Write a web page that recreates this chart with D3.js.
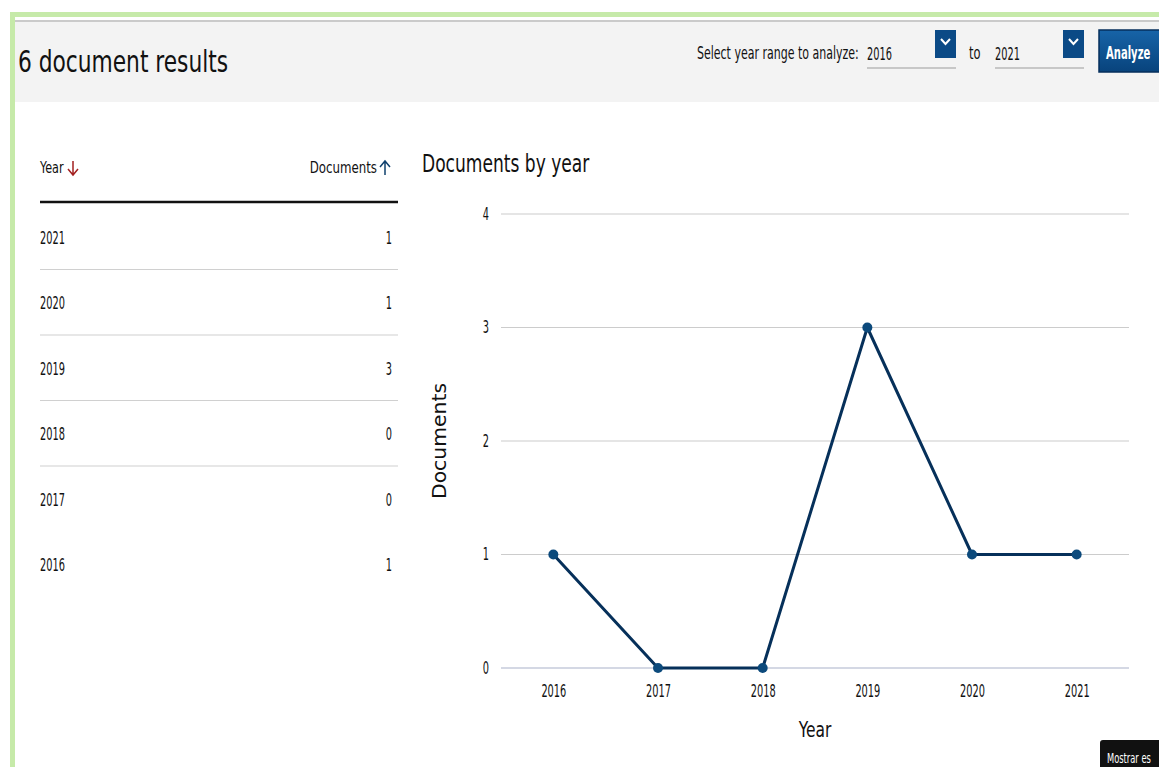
<!DOCTYPE html>
<html>
<head>
<meta charset="utf-8">
<script src="https://cdn.jsdelivr.net/npm/d3@7"></script>
<style>
  html, body { margin: 0; padding: 0; background: #fff; overflow: hidden; }
  svg { display: block; }
  .nar { font-family: "Liberation Sans Narrow", "DejaVu Sans Condensed", "Arial Narrow", "DejaVu Sans", sans-serif; }
</style>
</head>
<body>
<svg id="page" width="1159" height="767"></svg>
<script>
// ---- data ----
const years = ["2016", "2017", "2018", "2019", "2020", "2021"];
const documents = [1, 0, 0, 3, 1, 1];
const yTicks = [0, 1, 2, 3, 4];
const totalResults = 6;
const rangeFrom = "2016";
const rangeTo = "2021";

const svg = d3.select("#page");
const NAR = "Liberation Sans Narrow, DejaVu Sans Condensed, Arial Narrow, DejaVu Sans, sans-serif";

// condense text horizontally (about its anchor x) to mimic the narrow UI font
function condense(sel, k) {
  sel.each(function () {
    const x0 = +(this.getAttribute("x") || 0);
    d3.select(this).attr("transform", `translate(${x0 * (1 - k)},0) scale(${k},1)`);
  });
  return sel;
}
const KW = 0.78, KD = 0.64;

// ---- page frame ----
svg.append("rect").attr("x", 10).attr("y", 12).attr("width", 1149).attr("height", 5).attr("fill", "#c6eaa9");
svg.append("rect").attr("x", 10).attr("y", 12).attr("width", 5).attr("height", 755).attr("fill", "#c6eaa9");
svg.append("rect").attr("x", 15).attr("y", 20).attr("width", 1144).attr("height", 82).attr("fill", "#f3f3f3");
svg.append("line").attr("x1", 15).attr("x2", 1159).attr("y1", 21).attr("y2", 21).attr("stroke", "#bdbdbd").attr("stroke-width", 1.5);

condense(svg.append("text").attr("class", "nar").attr("x", 18).attr("y", 72)
  .attr("font-size", 31).attr("fill", "#111")
  .text(totalResults + " document results"), KW);

// year range selectors
const hdr = svg.append("g").attr("class", "nar").attr("font-size", 17).attr("fill", "#111");
condense(hdr.append("text").attr("x", 697).attr("y", 59).text("Select year range to analyze:"), 0.72);
function selector(x, val) {
  condense(hdr.append("text").attr("x", x).attr("y", 60).text(val), KD);
  hdr.append("line").attr("x1", x).attr("x2", x + 89).attr("y1", 68).attr("y2", 68)
    .attr("stroke", "#b9b9b9").attr("stroke-width", 1.5);
  hdr.append("rect").attr("x", x + 68).attr("y", 30).attr("width", 21).attr("height", 28).attr("fill", "#0b4a86");
  hdr.append("path").attr("d", `M${x + 74},${39} L${x + 78.5},${44} L${x + 83},${39}`)
    .attr("fill", "none").attr("stroke", "#fff").attr("stroke-width", 2);
}
selector(867, rangeFrom);
condense(hdr.append("text").attr("x", 969).attr("y", 59).text("to"), 0.75);
selector(995, rangeTo);
const grad = svg.append("defs").append("linearGradient").attr("id", "btn").attr("x1", 0).attr("x2", 0).attr("y1", 0).attr("y2", 1);
grad.append("stop").attr("offset", "0%").attr("stop-color", "#1764a8");
grad.append("stop").attr("offset", "100%").attr("stop-color", "#08437c");
svg.append("rect").attr("x", 1099).attr("y", 30).attr("width", 62).attr("height", 42).attr("fill", "url(#btn)").attr("stroke", "#062f5c").attr("stroke-width", 1.5);
condense(svg.append("text").attr("class", "nar").attr("x", 1106).attr("y", 59).attr("font-size", 18)
  .attr("fill", "#fff").attr("font-weight", "bold").text("Analyze"), 0.62);

// ---- table ----
const tbl = svg.append("g").attr("class", "nar").attr("font-size", 16).attr("fill", "#111");
condense(tbl.append("text").attr("x", 40).attr("y", 173).text("Year"), KW);
tbl.append("path").attr("d", "M73,161 L73,174 M68,169 L73,175 L78,169").attr("fill", "none").attr("stroke", "#a32020").attr("stroke-width", 1.5);
condense(tbl.append("text").attr("x", 377).attr("y", 173).attr("text-anchor", "end").text("Documents"), 0.82);
tbl.append("path").attr("d", "M385,175 L385,162 M380,167 L385,161 L390,167").attr("fill", "none").attr("stroke", "#10416e").attr("stroke-width", 1.5);
tbl.append("line").attr("x1", 40).attr("x2", 398).attr("y1", 202).attr("y2", 202).attr("stroke", "#111").attr("stroke-width", 2.5);

const rows = years.map((y, i) => ({ year: y, n: documents[i] })).reverse();
const rowY = d3.scaleBand().domain(rows.map(d => d.year)).range([204, 597]);
const rg = tbl.selectAll("g.row").data(rows).join("g").attr("class", "row")
  .attr("transform", d => `translate(0,${rowY(d.year)})`);
condense(rg.append("text").attr("x", 40).attr("y", 40).attr("font-size", 17).text(d => d.year), KD);
condense(rg.append("text").attr("x", 392).attr("y", 40).attr("font-size", 17).attr("text-anchor", "end").text(d => d.n), KD);
rg.filter((d, i) => i < rows.length - 2).append("line")
  .attr("x1", 40).attr("x2", 398).attr("y1", rowY.bandwidth()).attr("y2", rowY.bandwidth())
  .attr("stroke", "#d0d0d0").attr("stroke-width", 1.2);

// ---- chart ----
condense(svg.append("text").attr("class", "nar").attr("x", 422).attr("y", 172).attr("font-size", 25)
  .attr("fill", "#111").text("Documents by year"), 0.76);

const x = d3.scalePoint().domain(years).range([501, 1129]).padding(0.5);
const y = d3.scaleLinear().domain([0, 4]).range([668, 214]);

const grid = svg.append("g");
grid.selectAll("line").data(yTicks).join("line")
  .attr("x1", 501).attr("x2", 1129)
  .attr("y1", d => y(d)).attr("y2", d => y(d))
  .attr("stroke", d => d === 0 ? "#aab1c9" : "#cccccc").attr("stroke-width", 1.2);

const yAxis = svg.append("g").attr("transform", "translate(489,0)")
  .call(d3.axisLeft(y).tickValues(yTicks).tickSize(0).tickPadding(0).tickFormat(d3.format("d")));
yAxis.select(".domain").remove();
condense(yAxis.selectAll("text").attr("font-family", NAR).attr("font-size", 17).attr("fill", "#111").attr("dy", "0.32em"), KD);

const xAxis = svg.append("g").attr("transform", "translate(0,668)")
  .call(d3.axisBottom(x).tickSize(0).tickPadding(17));
xAxis.select(".domain").remove();
condense(xAxis.selectAll("text").attr("font-family", NAR).attr("font-size", 17).attr("fill", "#111"), KD);

condense(svg.append("text").attr("class", "nar").attr("x", 815).attr("y", 737).attr("text-anchor", "middle")
  .attr("font-size", 21).attr("fill", "#111").text("Year"), 0.82);
svg.append("text").attr("transform", "translate(446,441) rotate(-90)").attr("text-anchor", "middle")
  .attr("font-family", "DejaVu Sans, Verdana, sans-serif").attr("font-size", 19).attr("fill", "#111")
  .attr("textLength", 116).attr("lengthAdjust", "spacingAndGlyphs")
  .text("Documents");

const pts = years.map((yr, i) => ({ yr, v: documents[i] }));
svg.append("path").datum(pts)
  .attr("d", d3.line().x(d => x(d.yr)).y(d => y(d.v)))
  .attr("fill", "none").attr("stroke", "#06305a").attr("stroke-width", 3).attr("stroke-linejoin", "round");
svg.selectAll("circle.pt").data(pts).join("circle").attr("class", "pt")
  .attr("cx", d => x(d.yr)).attr("cy", d => y(d.v)).attr("r", 5).attr("fill", "#0c4a7c");

// tooltip fragment bottom-right
svg.append("rect").attr("x", 1100).attr("y", 740).attr("width", 70).attr("height", 30).attr("rx", 3).attr("fill", "#111");
condense(svg.append("text").attr("class", "nar").attr("x", 1107).attr("y", 763).attr("font-size", 14).attr("fill", "#fff")
  .text("Mostrar es"), 0.66);
</script>
</body>
</html>
